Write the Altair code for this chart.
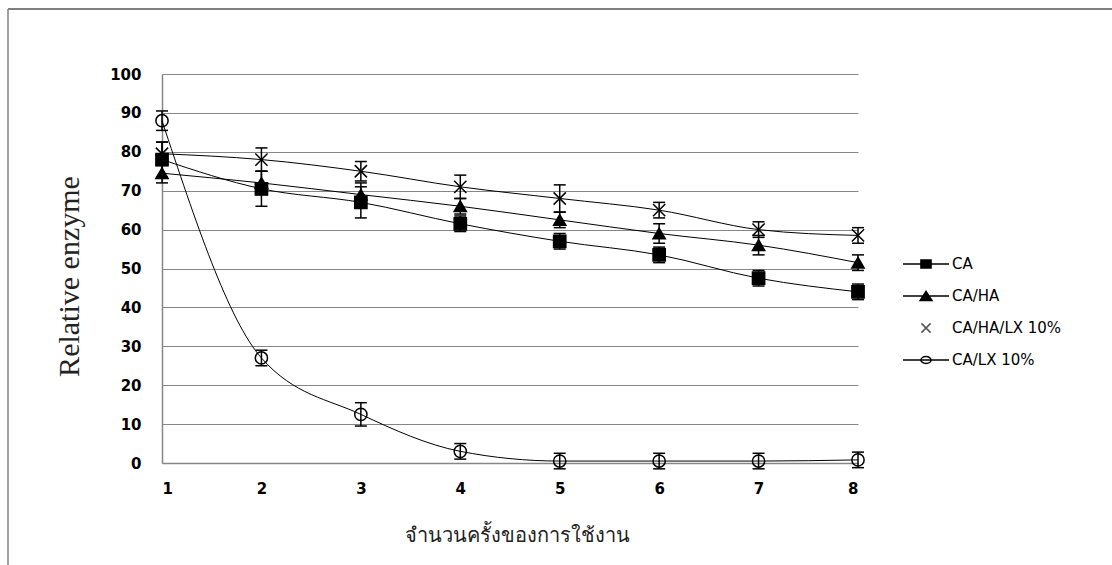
import altair as alt
import pandas as pd

# Reuse cycles (x) and relative enzyme activity (%) per membrane type
cycles = [1, 2, 3, 4, 5, 6, 7, 8]
series_names = ["CA", "CA/HA", "CA/HA/LX 10%", "CA/LX 10%"]

ca = [78, 70.5, 67, 61.5, 57, 53.5, 47.5, 44]
ca_err = [4.5, 4.5, 4, 2, 2, 2, 2, 2]

ca_ha = [74.5, 72, 69, 66, 62.5, 59, 56, 51.5]
ca_ha_err = [2.5, 3, 3, 2, 2, 2.5, 2.5, 2]

ca_ha_lx = [79.5, 78, 75, 71, 68, 65, 60, 58.5]
ca_ha_lx_err = [3, 3, 2.5, 3, 3.5, 2, 2, 2]

ca_lx = [88, 27, 12.5, 3, 0.5, 0.5, 0.5, 0.8]
ca_lx_err = [2.5, 2, 3, 2, 2, 2, 2, 2]

y_ticks = list(range(0, 101, 10))

rows = []
for name, vals, errs in zip(series_names,
                            [ca, ca_ha, ca_ha_lx, ca_lx],
                            [ca_err, ca_ha_err, ca_ha_lx_err, ca_lx_err]):
    for c, v, e in zip(cycles, vals, errs):
        rows.append({"cycle": c, "series": name, "activity": v,
                     "lo": v - e, "hi": v + e})
df = pd.DataFrame(rows)

W, H = 696, 389
PAD_L, PAD_T = 162, 74
PAD_R, PAD_B = 1112 - PAD_L - W, 565 - PAD_T - H

GRID = "#868686"
X_PATH = "M-1,-1L1,1M-1,1L1,-1"

x_axis = alt.Axis(values=cycles, grid=False, ticks=False, labelPadding=18,
                  labelFont="DejaVu Sans", labelFontWeight="bold", labelFontSize=15,
                  labelColor="black", domainColor=GRID, domainWidth=1.5,
                  title="จำนวนครั้งของการใช้งาน", titleFont="Liberation Serif",
                  titleFontSize=20, titleFontWeight="normal", titleColor="#222222",
                  titleX=355, titleY=72, titleBaseline="middle")
y_axis = alt.Axis(values=y_ticks, grid=True, gridColor=GRID, gridWidth=1,
                  ticks=False, labelPadding=21, labelFont="DejaVu Sans",
                  labelFontWeight="bold", labelFontSize=15, labelColor="black",
                  domainColor=GRID, domainWidth=1.5,
                  title="Relative enzyme", titleFont="Liberation Serif",
                  titleFontSize=30, titleFontWeight="normal", titleColor="#222222",
                  titleX=-93, titleY=202, titleAngle=-90, titleBaseline="middle",
                  titleAlign="center")

x_scale = alt.Scale(domain=[1, 8], nice=False, zero=False)
y_scale = alt.Scale(domain=[0, 100], nice=False)


def xq(field="cycle"):
    return alt.X(f"{field}:Q", scale=x_scale, axis=x_axis)


def yq(field):
    return alt.Y(f"{field}:Q", scale=y_scale, axis=y_axis)


base = alt.Chart(df)

lines = base.mark_line(interpolate="monotone", color="black", strokeWidth=1).encode(
    x=xq(), y=yq("activity"), detail="series:N",
)

bars = base.mark_rule(color="black", strokeWidth=1.5).encode(
    x=xq(), y=yq("lo"), y2="hi:Q",
)
cap_hi = base.mark_tick(orient="horizontal", size=12, thickness=1.5, color="black",
                        opacity=1).encode(x=xq(), y=yq("hi"))
cap_lo = base.mark_tick(orient="horizontal", size=12, thickness=1.5, color="black",
                        opacity=1).encode(x=xq(), y=yq("lo"))

markers = base.mark_point(filled=True, strokeWidth=1.5, opacity=1).encode(
    x=xq(), y=yq("activity"),
    shape=alt.Shape("series:N", legend=None,
                    scale=alt.Scale(domain=series_names,
                                    range=["square", "triangle-up", X_PATH, "circle"])),
    fill=alt.Fill("series:N", legend=None,
                  scale=alt.Scale(domain=series_names,
                                  range=["black", "black", "transparent", "transparent"])),
    stroke=alt.value("black"),
    size=alt.Size("series:N", legend=None,
                  scale=alt.Scale(domain=series_names, range=[150, 150, 200, 230])),
)

# Legend symbols: a short line with the marker on it
legend_paths = [
    "M-1,0L1,0M-0.22,-0.17L0.22,-0.17L0.22,0.17L-0.22,0.17Z",
    "M-1,0L1,0M-0.26,0.2L0,-0.2L0.26,0.2Z",
    "M-0.2,-0.2L0.2,0.2M-0.2,0.2L0.2,-0.2",
    "M-1,0L1,0M0.22,0A0.22,0.15,0,1,1,-0.22,0A0.22,0.15,0,1,1,0.22,0",
]
leg = alt.Legend(title=None, orient="none", legendX=740, legendY=166,
                 labelFont="DejaVu Sans", labelFontSize=15, labelColor="black",
                 symbolSize=2116, symbolStrokeWidth=1.5, symbolOpacity=1,
                 labelOffset=2, padding=0, rowPadding=-14)

legend_layer = alt.Chart(df.drop_duplicates("series")).mark_point(
    clip=True, filled=True, strokeWidth=1.5, opacity=1).encode(
    x=alt.value(-300), y=alt.value(-300),
    shape=alt.Shape("series:N", legend=leg,
                    scale=alt.Scale(domain=series_names, range=legend_paths)),
    fill=alt.Fill("series:N", legend=leg,
                  scale=alt.Scale(domain=series_names,
                                  range=["black", "black", "transparent", "transparent"])),
    stroke=alt.Stroke("series:N", legend=leg,
                      scale=alt.Scale(domain=series_names,
                                      range=["black", "black", "#555555", "black"])),
)

# Outer chart-area border (left and top edges)
frame_left = alt.Chart(alt.Data(values=[{}])).mark_rule(color="#808080", strokeWidth=1.5).encode(
    x=alt.value(8 - PAD_L), y=alt.value(9 - PAD_T), y2=alt.value(565 - PAD_T))
frame_top = alt.Chart(alt.Data(values=[{}])).mark_rule(color="#808080", strokeWidth=2).encode(
    x=alt.value(8 - PAD_L), x2=alt.value(1112 - PAD_L), y=alt.value(9 - PAD_T))

chart = alt.layer(
    lines, bars, cap_hi, cap_lo, markers, legend_layer, frame_left, frame_top
).resolve_scale(
    shape="independent", fill="independent", stroke="independent", size="independent"
).properties(
    width=W, height=H,
    autosize=alt.AutoSizeParams(type="none"),
    padding={"left": PAD_L, "top": PAD_T, "right": PAD_R, "bottom": PAD_B},
    background="white",
).configure_view(stroke=None)

chart.save("out.html", embed_options={"renderer": "svg", "actions": False})
